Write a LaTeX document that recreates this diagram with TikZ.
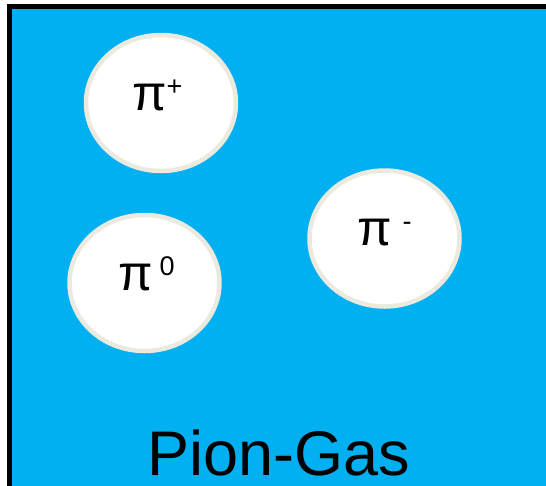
\documentclass[tikz,border=0pt]{standalone}
\usepackage{fontspec}
\setmainfont{Liberation Sans}
\usetikzlibrary{shapes.geometric}
\definecolor{GasBlue}{RGB}{0,176,240}
\definecolor{ShellGrey}{RGB}{236,233,222}
\newcommand{\pcharge}[1]{\raisebox{15pt}{\fontsize{27}{27}\selectfont #1}}
\tikzset{
  gasbox/.style={draw=black,fill=GasBlue,line width=4.5pt},
  pion/.style={ellipse,draw=ShellGrey,fill=white,line width=4.5pt,
               minimum width=150pt,minimum height=136pt,inner sep=0pt},
  plabel/.style={font=\fontsize{50}{50}\selectfont,inner sep=0pt,anchor=base west},
  gaslabel/.style={font=\fontsize{63}{63}\selectfont,inner sep=0pt,anchor=base},
}

\begin{document}
\begin{tikzpicture}[x=1pt,y=-1pt]
    \useasboundingbox (0,0) rectangle (546,485);
    \clip (0,0) rectangle (546,485);
    % Gas box
    \draw[gasbox] (9.5,6.5) rectangle (550,488);
    % Pions
    \node[pion] (pip) at (161,103) {};
    \node[pion] (pim) at (384.5,238.5) {};
    \node[pion] (piz) at (144.5,283) {};
    % Labels
    \node[plabel] (pipl) at (132,110) {π\pcharge{+}};
    \node[plabel] (piml) at (357,245) {π\hspace{11pt}\pcharge{-}};
    \node[plabel] (pizl) at (118,290) {π\hspace{7pt}\pcharge{0}};
    \node[gaslabel] (gas) at (279,475) {Pion-Gas};
\end{tikzpicture}
\end{document}
